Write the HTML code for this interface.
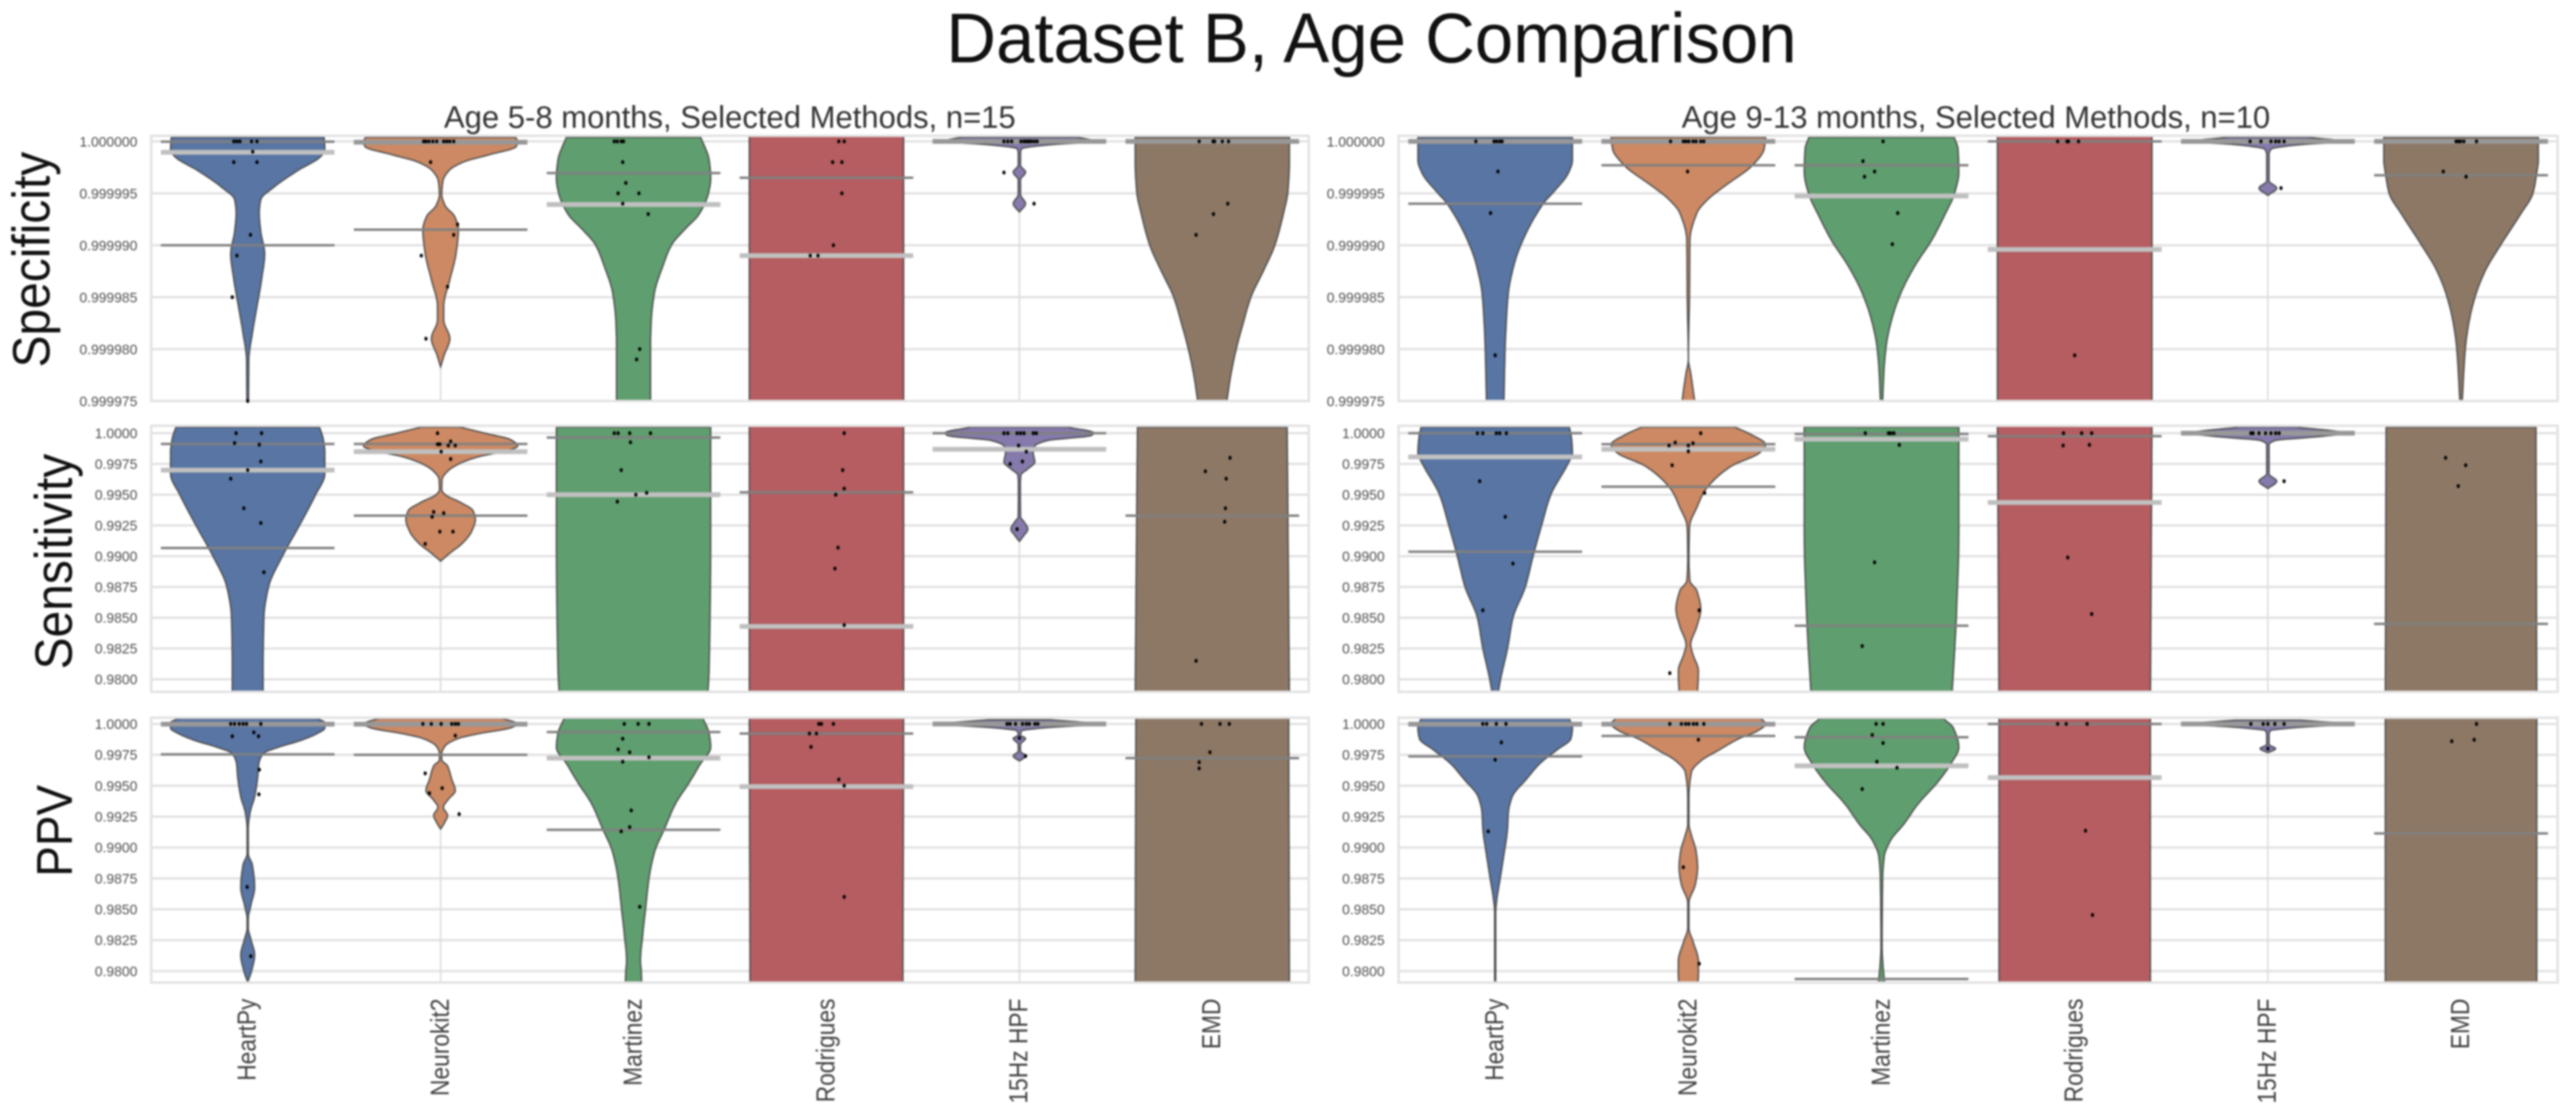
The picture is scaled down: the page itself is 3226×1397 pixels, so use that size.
<!DOCTYPE html>
<html lang="en">
<head>
<meta charset="utf-8">
<title>Dataset B, Age Comparison</title>
<style>
html,body{margin:0;padding:0;background:#fff;width:3226px;height:1397px;overflow:hidden}
#chart{display:block;filter:blur(1px)}
text{font-family:"Liberation Sans",sans-serif}
</style>
</head>
<body>
<svg id="chart" width="3226" height="1397" viewBox="0 0 3226 1397" xmlns="http://www.w3.org/2000/svg">
  <rect x="0" y="0" width="3226" height="1397" fill="#fff"/>
  <text x="1185" y="78" font-size="88" fill="#111" textLength="1065" lengthAdjust="spacingAndGlyphs">Dataset B, Age Comparison</text>
  <text x="556" y="160" font-size="39" fill="#333" textLength="716" lengthAdjust="spacingAndGlyphs">Age 5-8 months, Selected Methods, n=15</text>
  <text x="2106" y="160" font-size="39" fill="#333" textLength="737" lengthAdjust="spacingAndGlyphs">Age 9-13 months, Selected Methods, n=10</text>
  <g id="plots"></g>
</svg>
<script>
// Categories and tick labels
const methods = ['HeartPy', 'Neurokit2', 'Martinez', 'Rodrigues', '15Hz HPF', 'EMD'];
const metricNames = ['Specificity', 'Sensitivity', 'PPV'];
const specTicks = [0, 5, 10, 15, 20, 25];
const specTickLabels = ['1.000000', '0.999995', '0.999990', '0.999985', '0.999980', '0.999975'];
const rateTicks = [0, 2.5, 5, 7.5, 10, 12.5, 15, 17.5, 20];
const rateTickLabels = ['1.0000', '0.9975', '0.9950', '0.9925', '0.9900', '0.9875', '0.9850', '0.9825', '0.9800'];

// All values below are shortfall from 1.0:
//  Specificity in parts per million, Sensitivity and PPV in parts per thousand.
// Shape = [shortfall, relative density]; Quartiles = [q3, median, q1] (null = off-scale);
// Points = [shortfall, jitter as fraction of the violin half-width].

const youngSpecShape = [
  [[-0.4,.99],[0.8,1],[1.5,.94],[2.8,.65],[4.4,.34],[5.6,.17],[6.9,.15],[8.7,.17],[10.8,.22],[13.3,.18],[15.9,.12],[18.5,.06],[21,.015],[26,.01]],
  [[-0.4,.97],[0,1],[0.5,.98],[1.3,.62],[2,.29],[2.8,.11],[3.8,.03],[5.1,.015],[6.2,.06],[7.2,.18],[8.5,.23],[10.8,.2],[13.3,.12],[15.9,.04],[17.2,.04],[19,.12],[20.5,.05],[21.7,0]],
  [[-0.4,.87],[1.8,.98],[3.6,1],[5,.97],[7,.85],[8.5,.66],[10,.49],[12,.38],[14.6,.27],[17.2,.23],[19.7,.22],[26,.22]],
  [[-1,1],[26,1]],
  [[-0.4,.75],[0,1],[0.35,.35],[0.7,.03],[1.1,.015],[2.3,.015],[2.97,.08],[3.7,.015],[5.1,.015],[6,.08],[6.8,0]],
  [[-0.4,1],[0,1],[1.8,1],[4.8,.98],[7,.92],[10,.81],[12.5,.66],[15,.5],[17.5,.4],[20,.31],[22.5,.24],[26,.17]]
];
const youngSpecQuartiles = [[0.03,1.05,10],[0,0.08,8.5],[3.05,6.08,null],[3.5,11,null],[0,0,0],[0,0,null]];
const youngSpecPoints = [
  [[0,-.18],[0,-.14],[0,-.10],[0,.05],[0,.12],[1,.065],[2,-.18],[2,.12],[9,.036],[11,-.14],[15,-.2],[25,0]],
  [[0,-.22],[0,-.19],[0,-.15],[0,-.10],[0,-.05],[0,.04],[0,.08],[0,.12],[0,.17],[2,-.13],[8,.22],[9,.17],[11,-.25],[14,.09],[19,-.19]],
  [[0,-.25],[0,-.21],[0,-.16],[0,-.13],[2,-.14],[4,-.10],[5,-.2],[5,.07],[6,-.14],[7,.19],[20,.08],[21,.04]],
  [[0,.16],[0,.23],[2,.08],[2,.2],[5,.2],[10,.09],[11,-.21],[11,-.11]],
  [[0,-.2],[0,-.15],[0,-.1],[0,.02],[0,.06],[0,.09],[0,.12],[0,.15],[0,.19],[0,.23],[3,-.2],[6,.19]],
  [[0,-.17],[0,.01],[0,.03],[0,.13],[0,.21],[6,.2],[7,.015],[9,-.21]]
];

const youngSensShape = [
  [[-0.5,.93],[0.5,.98],[1.6,1],[3.3,1],[5,.88],[7.5,.67],[10,.45],[12.5,.27],[15,.21],[19,.2],[22,.2]],
  [[-0.5,.25],[0.07,.62],[0.5,.9],[1.04,1],[1.47,.83],[1.9,.5],[2.45,.25],[3.1,.09],[3.75,.02],[4.6,.015],[5,.06],[5.6,.25],[6.3,.42],[7,.45],[8,.4],[8.9,.29],[9.8,.11],[10.4,0]],
  [[-0.5,1],[8,1],[19,.98],[22,.955]],
  [[-1,1],[22,1]],
  [[-0.5,.62],[-0.04,.96],[0.17,.94],[0.6,.36],[1.04,.2],[1.6,.18],[2.34,.2],[2.9,.11],[3.4,.02],[4.2,.012],[6.8,.015],[7.2,.06],[7.8,.11],[8.3,.06],[8.8,0]],
  [[-0.5,.97],[22,1]]
];
const youngSensQuartiles = [[0.87,3,9.33],[0.87,1.5,6.7],[0.35,5,null],[4.8,15.7,null],[0,1.3,null],[6.7,null,null]];
const youngSensPoints = [
  [[0,-.15],[0,.18],[.8,-.17],[.93,.15],[2.3,.17],[3,0],[3.7,-.22],[6.1,-.05],[7.3,.17],[11.3,.21]],
  [[0,-.04],[.9,-.04],[.9,-.01],[.67,.13],[1,.1],[1,.19],[1.5,.007],[2.1,.13],[6.4,-.09],[6.5,.04],[6.8,-.11],[8,-.01],[8,.16],[9,-.2]],
  [[0,-.25],[0,-.2],[0,-.05],[0,.22],[.74,-.04],[3,-.16],[4.85,.17],[5,.03],[5.56,-.21]],
  [[0,.23],[3,.21],[4.5,.23],[5,.12],[9.3,.15],[11,.11],[15.6,.23]],
  [[0,-.2],[0,-.15],[0,-.03],[0,.015],[0,.06],[0,.18],[0,.22],[1,-.01],[1.5,.09],[2.3,.04],[2.5,-.12],[7.8,-.03]],
  [[2,.23],[3.1,-.09],[3.7,.18],[6.1,.17],[7.2,.16],[18.5,-.21]]
];

const youngPpvShape = [
  [[-0.44,.9],[-0.1,1],[.33,1],[.78,.9],[1.33,.69],[1.88,.4],[2.4,.2],[3.2,.145],[4.3,.13],[5.9,.09],[7.2,.03],[8.5,.007],[10.5,.007],[11.4,.06],[13.2,.09],[14.7,.04],[15.8,.007],[16.5,.007],[17.4,.04],[18.7,.09],[20,.05],[20.9,0]],
  [[-0.44,.8],[0,1],[.33,.9],[.78,.5],[1.2,.22],[1.77,.06],[2.4,.015],[2.9,.015],[3.4,.09],[4.5,.145],[5.4,.19],[6.1,.1],[6.75,.036],[7.4,.09],[8,.05],[8.5,0]],
  [[-0.44,.9],[.78,.98],[1.9,1],[3.2,.87],[4.76,.72],[6.5,.54],[8.5,.4],[10.3,.275],[12.5,.2],[14.7,.16],[17,.12],[19.2,.09],[20,.1],[22,.11]],
  [[-1,1],[22,.99]],
  [[-0.33,.4],[0,1],[.33,.3],[.55,.03],[.9,.015],[1.18,.08],[1.66,.015],[2.2,.015],[2.6,.08],[3,0]],
  [[-0.5,.99],[22,1]]
];
const youngPpvQuartiles = [[0,0.02,2.46],[0,0.02,2.5],[.66,2.77,8.57],[.78,5.07,null],[0,0,0],[2.77,null,null]];
const youngPpvPoints = [
  [[0,-.22],[0,-.17],[0,-.11],[0,-.06],[0,-.015],[0,.17],[.69,.08],[1,-.2],[1,.14],[3.7,.15],[5.7,.145],[13.2,-.007],[18.8,.04]],
  [[0,-.23],[0,-.12],[0,.007],[0,.145],[0,.19],[0,.23],[.95,.19],[4,-.2],[5.2,.02],[5.6,-.145],[7.3,.24]],
  [[0,-.12],[0,.06],[0,.2],[1.2,-.14],[2.06,-.2],[2.3,-.05],[2.7,.2],[3.06,-.14],[7,-.03],[8.35,-.05],[8.7,-.16],[14.8,.08]],
  [[0,-.1],[0,-.065],[0,.09],[.78,-.22],[.78,-.13],[1.86,-.2],[4.5,.16],[5,.23],[14,.23]],
  [[0,-.16],[0,-.12],[0,-.05],[0,.04],[0,.09],[0,.13],[0,.2],[0,.24],[1.15,0],[2.6,.08]],
  [[0,-.14],[0,.1],[0,.22],[2.3,-.03],[3.1,-.17],[3.6,-.17]]
];

const olderSpecShape = [
  [[-0.4,1],[1.8,1],[3,.95],[5,.74],[6,.62],[10,.33],[12,.24],[14.6,.17],[17.2,.145],[19.7,.13],[26,.11]],
  [[-0.4,1],[.75,.98],[2.3,.83],[4.3,.47],[5.6,.25],[6.9,.11],[9.5,.02],[14.6,.015],[21,0],[22.3,.03],[26,.1]],
  [[-0.4,.94],[.75,.99],[3,1],[5.1,.94],[6.9,.83],[9.5,.65],[12,.43],[14.6,.25],[17.2,.13],[19.7,.06],[22.3,.03],[25,.015]],
  [[-1,1],[26,1]],
  [[-0.4,.5],[0,1],[.35,.36],[.75,.04],[1.25,.015],[3.8,.015],[4.5,.115],[5.2,0]],
  [[-0.4,1],[1.8,1],[3,.98],[5,.93],[7,.77],[10,.51],[12.5,.31],[15,.18],[17.5,.1],[20,.055],[25,.015]]
];
const olderSpecQuartiles = [[0,0,6],[0,0,2.3],[2.3,5.26,null],[0,10.4,null],[0,0,0],[0,0,3.26]];
const olderSpecPoints = [
  [[0,-.25],[0,-.015],[0,.02],[0,.06],[0,.09],[2.9,.036],[6.9,-.06],[20.6,0]],
  [[0,-.23],[0,-.065],[0,-.03],[0,.007],[0,.06],[0,.1],[0,.16],[0,.2],[2.9,-.01]],
  [[0,.02],[1.9,-.24],[2.9,-.09],[3.4,-.22],[6.9,.21],[9.9,.14]],
  [[0,-.22],[0,-.1],[0,-.08],[0,.05],[20.6,0]],
  [[0,-.23],[0,-.09],[0,.04],[0,.1],[0,.145],[0,.21],[4.5,.17]],
  [[0,-.065],[0,-.036],[0,-.007],[0,.036],[0,.2],[2.9,-.23],[3.4,.065]]
];

const olderSensShape = [
  [[-0.5,.96],[.5,.99],[1.6,1],[2.5,.94],[5,.72],[7.5,.6],[10,.49],[12.5,.39],[15,.23],[17.5,.16],[20,.07],[21.5,.03]],
  [[-0.5,.6],[.07,.8],[.93,1],[1.6,.92],[2.66,.56],[3.75,.34],[4.8,.2],[5.9,.12],[7.6,.015],[10.2,.007],[12,.02],[12.8,.11],[14.3,.16],[15.7,.11],[17.2,.03],[18,.06],[19.3,.13],[22,.11]],
  [[-0.5,1],[8.1,1],[14.6,.97],[21.5,.91]],
  [[-1,1],[22,.98]],
  [[-0.5,.36],[0,1],[.28,.65],[.6,.09],[.93,.015],[3.3,.015],[3.9,.115],[4.5,0]],
  [[-0.5,.97],[22,.98]]
];
const olderSensQuartiles = [[0,1.93,9.63],[.89,1.3,4.35],[.06,.48,15.65],[.24,5.63,null],[0,0,0],[15.5,null,null]];
const olderSensPoints = [
  [[0,-.23],[0,-.16],[0,.015],[0,.06],[0,.145],[3.9,-.2],[6.8,.13],[10.6,.23],[14.4,-.16]],
  [[0,.16],[.76,-.17],[1,-.25],[1,0],[.82,.06],[1.47,0],[2.6,-.21],[4.85,.21],[14.4,.14],[19.5,-.24]],
  [[0,-.21],[0,.09],[0,.12],[0,.16],[.95,.23],[10.5,-.09],[17.3,-.25]],
  [[0,-.145],[0,.09],[0,.22],[1,-.15],[.95,.19],[10.1,-.09],[14.7,.22]],
  [[0,-.22],[0,-.19],[0,-.115],[0,-.03],[0,.04],[0,.1],[0,.145],[3.9,.21]],
  [[2,-.2],[2.6,.06],[4.3,-.036]]
];

const olderPpvShape = [
  [[-0.44,.96],[.33,1],[1.2,.98],[2.1,.8],[3.2,.58],[4.5,.4],[5.9,.22],[7.2,.17],[8.5,.16],[10.3,.12],[12.5,.065],[14.3,.02],[15.2,.007],[22,.007]],
  [[-0.44,.94],[0,1],[.55,.9],[1.2,.65],[2.1,.4],[3,.16],[3.9,.04],[5.9,.007],[8.1,.007],[9,.04],[10.3,.1],[11.6,.12],[13,.09],[14.5,.007],[16.5,.007],[17.6,.06],[19.2,.13],[20.3,.13],[22,.1]],
  [[-0.44,.8],[.33,.93],[1.9,1],[3.2,.9],[4.76,.72],[6.5,.47],[8.1,.29],[9.4,.12],[10.7,.036],[12.5,.015],[18,.007],[19.6,.02],[22,.06]],
  [[-1,.98],[22,.98]],
  [[-0.3,.43],[0,1],[.3,.36],[.55,.03],[.9,.015],[1.66,.015],[2,.1],[2.33,0]],
  [[-0.5,.98],[22,.98]]
];
const olderPpvQuartiles = [[0,0.02,2.63],[0,0.02,.97],[1.08,3.39,20.64],[0,4.34,null],[0,0,0],[8.86,null,null]];
const olderPpvPoints = [
  [[0,-.16],[0,-.11],[0,.015],[0,.14],[1.5,.08],[2.9,0],[8.7,-.09]],
  [[0,-.24],[0,-.09],[0,-.036],[0,.007],[0,.065],[0,.11],[0,.2],[1.28,.13],[11.6,-.065],[19.4,.14]],
  [[0,-.07],[0,.02],[.89,-.12],[1.55,.02],[3.06,-.06],[3.54,.2],[5.27,-.25]],
  [[0,-.22],[0,-.11],[0,.16],[8.64,.14],[15.46,.23]],
  [[0,-.22],[0,-.06],[0,0],[0,.09],[0,.21],[2,0]],
  [[0,.2],[1.28,.17],[1.4,-.12]]
];

// Layout (not data)
const violinColors = ['#5875a4', '#cc8963', '#5f9e6e', '#b55d60', '#857aab', '#8d7866'];
const columns = [
  {key: 'left', x0: 189.4, x1: 1639, tickX: 172, shapes: [youngSpecShape, youngSensShape, youngPpvShape], quarts: [youngSpecQuartiles, youngSensQuartiles, youngPpvQuartiles], pts: [youngSpecPoints, youngSensPoints, youngPpvPoints]},
  {key: 'right', x0: 1751.5, x1: 3203, tickX: 1734, shapes: [olderSpecShape, olderSensShape, olderPpvShape], quarts: [olderSpecQuartiles, olderSensQuartiles, olderPpvQuartiles], pts: [olderSpecPoints, olderSensPoints, olderPpvPoints]}
];
const rows = [
  {top: 170, bottom: 502, zero: 177, perUnit: 13, ticks: specTicks, labels: specTickLabels, labelX: 62, labelY: 325, labelSize: 60},
  {top: 533, bottom: 866, zero: 542.3, perUnit: 15.4, ticks: rateTicks, labels: rateTickLabels, labelX: 90, labelY: 703, labelSize: 60},
  {top: 898.4, bottom: 1230, zero: 906.2, perUnit: 15.47, ticks: rateTicks, labels: rateTickLabels, labelX: 90, labelY: 1040, labelSize: 57.5}
];

const NS = 'http://www.w3.org/2000/svg';
const root = document.getElementById('plots');
function mk(tag, attrs, parent) {
  const el = document.createElementNS(NS, tag);
  for (const k in attrs) el.setAttribute(k, attrs[k]);
  parent.appendChild(el);
  return el;
}
function slug(s) { return s.toLowerCase().replace(/[^a-z0-9]+/g, '-'); }
function yPos(row, v) { return row.zero + v * row.perUnit; }
function xCenter(col, i) { return col.x0 + (i + 0.5) * (col.x1 - col.x0) / 6; }
function halfWidth(col) { return (col.x1 - col.x0) / 6 * 0.4; }

// Monotone cubic sampling of a violin's density profile
function sampleProfile(shape) {
  const n = shape.length, xs = shape.map(p => p[0]), ys = shape.map(p => p[1]);
  const s = [], m = new Array(n).fill(0);
  for (let i = 0; i < n - 1; i++) s.push((ys[i + 1] - ys[i]) / (xs[i + 1] - xs[i]));
  m[0] = s[0]; m[n - 1] = s[n - 2];
  for (let i = 1; i < n - 1; i++) m[i] = s[i - 1] * s[i] <= 0 ? 0 : 2 * s[i - 1] * s[i] / (s[i - 1] + s[i]);
  const out = [];
  for (let i = 0; i < n - 1; i++) {
    const h = xs[i + 1] - xs[i];
    for (let k = 0; k < 8; k++) {
      const t = k / 8, t2 = t * t, t3 = t2 * t;
      out.push([xs[i] + t * h, (2 * t3 - 3 * t2 + 1) * ys[i] + (t3 - 2 * t2 + t) * h * m[i] + (-2 * t3 + 3 * t2) * ys[i + 1] + (t3 - t2) * h * m[i + 1]]);
    }
  }
  out.push([xs[n - 1], ys[n - 1]]);
  return out;
}

columns.forEach(function (col, c) {
  rows.forEach(function (row, r) {
    const panelName = col.key + '-' + slug(metricNames[r]);
    const g = mk('g', {}, root);
    
    
    const clipId = 'clip-' + panelName;
    const defs = mk('defs', {}, g);
    const cp = mk('clipPath', {id: clipId}, defs);
    mk('rect', {x: col.x0, y: row.top, width: col.x1 - col.x0, height: row.bottom - row.top}, cp);

    // horizontal gridlines and y tick labels
    row.ticks.forEach(function (t, i) {
      const y = yPos(row, t);
      const line = mk('line', {x1: col.x0, x2: col.x1, y1: y, y2: y, stroke: '#e3e3e3', 'stroke-width': 3}, g);
      
      
      const tick = mk('text', {x: col.tickX, y: y + 6.3, 'text-anchor': 'end', 'font-size': 17.4, fill: '#505050'}, g);
      tick.textContent = row.labels[i];
      
      
    });
    // vertical gridlines
    methods.forEach(function (m, i) {
      const x = xCenter(col, i);
      const vline = mk('line', {x1: x, x2: x, y1: row.top, y2: row.bottom, stroke: '#dadada', 'stroke-width': 1.8}, g);
      
      
    });

    const clipped = mk('g', {'clip-path': 'url(#' + clipId + ')'}, g);
    const hw = halfWidth(col);
    methods.forEach(function (m, i) {
      const cx = xCenter(col, i);
      const prof = sampleProfile(col.shapes[r][i]);
      let d = '';
      prof.forEach(function (p, k) {
        d += (k ? 'L' : 'M') + (cx + p[1] * hw).toFixed(1) + ' ' + yPos(row, p[0]).toFixed(1);
      });
      for (let k = prof.length - 1; k >= 0; k--) {
        d += 'L' + (cx - prof[k][1] * hw).toFixed(1) + ' ' + yPos(row, prof[k][0]).toFixed(1);
      }
      d += 'Z';
      const violin = mk('path', {d: d, fill: violinColors[i], stroke: '#4a4a4a', 'stroke-width': 1.7}, clipped);
      
      
    });
    // spines over violins
    const spine = mk('rect', {x: col.x0, y: row.top, width: col.x1 - col.x0, height: row.bottom - row.top, fill: 'none', stroke: '#e2e2e2', 'stroke-width': 3}, g);
    
    

    // quartile lines (coincident median and q3 read as one darker band)
    methods.forEach(function (m, i) {
      const cx = xCenter(col, i);
      const len = (col.x1 - col.x0) / 6 * 0.45;
      const q = col.quarts[r][i];
      const med = q[1];
      const merged = med !== null && q[0] !== null && Math.abs(q[0] - med) < 0.1;
      if (med !== null) {
        const y = yPos(row, med);
        const ml = mk('line', {x1: cx - len, x2: cx + len, y1: y, y2: y, stroke: merged ? '#989898' : '#c0c0c0', 'stroke-width': 6}, g);
        
        
      }
      [q[0], q[2]].forEach(function (v, idx) {
        if (v === null || (merged && (idx === 0 || Math.abs(v - med) < 0.1))) return;
        const y = yPos(row, v);
        const ql = mk('line', {x1: cx - len, x2: cx + len, y1: y, y2: y, stroke: '#808080', 'stroke-width': 3}, g);
        
        
      });
    });
    // data points
    methods.forEach(function (m, i) {
      const cx = xCenter(col, i);
      col.pts[r][i].forEach(function (p) {
        const dot = mk('ellipse', {cx: cx + p[1] * hw, cy: yPos(row, p[0]), rx: 2, ry: 2.5, fill: '#000'}, g);
        
        
      });
    });
    // y-axis metric label (left column only)
    if (c === 0) {
      const yl = mk('text', {transform: 'translate(' + row.labelX + ',' + row.labelY + ') rotate(-90) scale(1,1.1)', 'text-anchor': 'middle', 'font-size': row.labelSize, fill: '#111'}, g);
      yl.textContent = metricNames[r];
      
      
    }
  });
  // x tick labels below the last row
  methods.forEach(function (m, i) {
    const x = xCenter(col, i) + 10;
    const xl = mk('text', {transform: 'translate(' + x + ',1250) rotate(-90) scale(1,1.15)', 'text-anchor': 'end', 'font-size': 28.5, fill: '#404040'}, root);
    xl.textContent = m;
    
    
  });
});
</script>
</body>
</html>
